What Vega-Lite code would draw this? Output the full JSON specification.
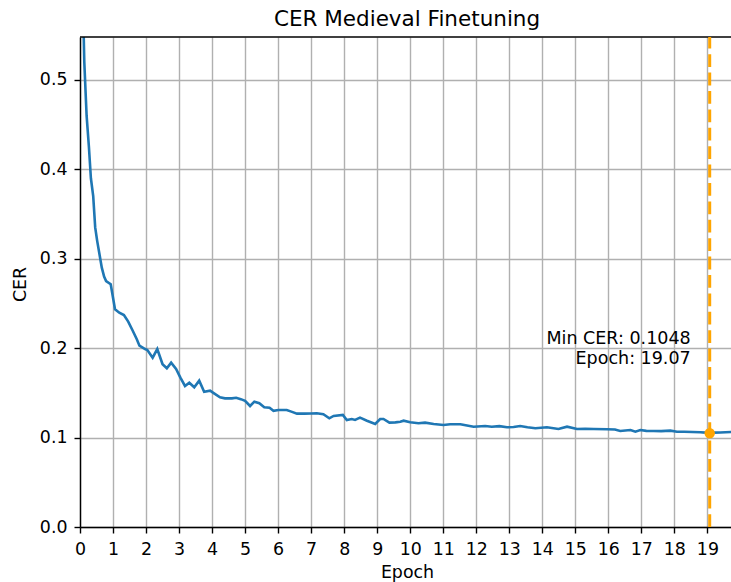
{
  "$schema": "https://vega.github.io/schema/vega-lite/v6.json",
  "width": 651,
  "height": 490,
  "autosize": {"type": "none"},
  "padding": {"left": 80, "top": 37, "right": 0, "bottom": 55},
  "background": "white",
  "config": {
    "font": "DejaVu Sans",
    "view": {"stroke": null},
    "axis": {
      "domainColor": "#000000",
      "domainWidth": 1.4,
      "tickColor": "#000000",
      "tickWidth": 1.4,
      "tickSize": 6,
      "labelFontSize": 17.4,
      "labelColor": "#000000",
      "labelPadding": 7,
      "titleFontSize": 17.4,
      "titleFontWeight": "normal",
      "titleColor": "#000000",
      "grid": true,
      "gridColor": "#b0b0b0",
      "gridWidth": 1.4
    }
  },
  "title": {
    "text": "CER Medieval Finetuning",
    "fontSize": 21.5,
    "fontWeight": "normal",
    "color": "#000000",
    "anchor": "middle",
    "baseline": "alphabetic",
    "offset": -12,
    "dx": 1.5
  },
  "datasets": {
    "cer": [
      {"epoch": 0.07, "cer": 0.62},
      {"epoch": 0.13, "cer": 0.52},
      {"epoch": 0.2, "cer": 0.46},
      {"epoch": 0.27, "cer": 0.425},
      {"epoch": 0.33, "cer": 0.39},
      {"epoch": 0.4, "cer": 0.37},
      {"epoch": 0.46, "cer": 0.335},
      {"epoch": 0.52, "cer": 0.32},
      {"epoch": 0.59, "cer": 0.305},
      {"epoch": 0.66, "cer": 0.29},
      {"epoch": 0.73, "cer": 0.28},
      {"epoch": 0.79, "cer": 0.275},
      {"epoch": 0.93, "cer": 0.2715},
      {"epoch": 1.06, "cer": 0.2435},
      {"epoch": 1.19, "cer": 0.2397},
      {"epoch": 1.33, "cer": 0.237},
      {"epoch": 1.46, "cer": 0.2297},
      {"epoch": 1.59, "cer": 0.22},
      {"epoch": 1.72, "cer": 0.21},
      {"epoch": 1.8, "cer": 0.2028},
      {"epoch": 1.97, "cer": 0.199},
      {"epoch": 2.04, "cer": 0.198},
      {"epoch": 2.2, "cer": 0.1894},
      {"epoch": 2.34, "cer": 0.199},
      {"epoch": 2.5, "cer": 0.182},
      {"epoch": 2.63, "cer": 0.1775},
      {"epoch": 2.76, "cer": 0.1838},
      {"epoch": 2.91, "cer": 0.1767},
      {"epoch": 3.04, "cer": 0.167},
      {"epoch": 3.18, "cer": 0.1577},
      {"epoch": 3.31, "cer": 0.1614},
      {"epoch": 3.46, "cer": 0.1563},
      {"epoch": 3.61, "cer": 0.1637},
      {"epoch": 3.76, "cer": 0.1513},
      {"epoch": 3.94, "cer": 0.1525},
      {"epoch": 4.06, "cer": 0.1495},
      {"epoch": 4.24, "cer": 0.145},
      {"epoch": 4.39, "cer": 0.1439},
      {"epoch": 4.6, "cer": 0.1439},
      {"epoch": 4.73, "cer": 0.1446},
      {"epoch": 4.87, "cer": 0.143},
      {"epoch": 5.0, "cer": 0.141},
      {"epoch": 5.15, "cer": 0.1353},
      {"epoch": 5.28, "cer": 0.1402},
      {"epoch": 5.43, "cer": 0.1384},
      {"epoch": 5.58, "cer": 0.134},
      {"epoch": 5.74, "cer": 0.1334},
      {"epoch": 5.86, "cer": 0.13},
      {"epoch": 6.01, "cer": 0.1309},
      {"epoch": 6.26, "cer": 0.1309},
      {"epoch": 6.4, "cer": 0.129},
      {"epoch": 6.57, "cer": 0.1268},
      {"epoch": 6.8, "cer": 0.1268},
      {"epoch": 7.0, "cer": 0.127},
      {"epoch": 7.17, "cer": 0.1272},
      {"epoch": 7.37, "cer": 0.1261},
      {"epoch": 7.55, "cer": 0.1216},
      {"epoch": 7.68, "cer": 0.1242},
      {"epoch": 7.96, "cer": 0.1253},
      {"epoch": 8.08, "cer": 0.1197},
      {"epoch": 8.23, "cer": 0.1208},
      {"epoch": 8.33, "cer": 0.1197},
      {"epoch": 8.48, "cer": 0.1223},
      {"epoch": 8.69, "cer": 0.1189},
      {"epoch": 8.94, "cer": 0.1152},
      {"epoch": 9.09, "cer": 0.1208},
      {"epoch": 9.19, "cer": 0.1208},
      {"epoch": 9.37, "cer": 0.1167},
      {"epoch": 9.55, "cer": 0.117},
      {"epoch": 9.7, "cer": 0.1178},
      {"epoch": 9.8, "cer": 0.1189},
      {"epoch": 10.0, "cer": 0.1171},
      {"epoch": 10.25, "cer": 0.116},
      {"epoch": 10.45, "cer": 0.1167},
      {"epoch": 10.71, "cer": 0.1152},
      {"epoch": 11.01, "cer": 0.1141},
      {"epoch": 11.21, "cer": 0.1149},
      {"epoch": 11.52, "cer": 0.1149},
      {"epoch": 11.72, "cer": 0.1135},
      {"epoch": 11.92, "cer": 0.1122},
      {"epoch": 12.27, "cer": 0.113},
      {"epoch": 12.47, "cer": 0.1122},
      {"epoch": 12.7, "cer": 0.1128},
      {"epoch": 12.93, "cer": 0.1115},
      {"epoch": 13.13, "cer": 0.1118},
      {"epoch": 13.33, "cer": 0.113},
      {"epoch": 13.55, "cer": 0.1115},
      {"epoch": 13.79, "cer": 0.1104},
      {"epoch": 14.14, "cer": 0.1115},
      {"epoch": 14.49, "cer": 0.1096},
      {"epoch": 14.75, "cer": 0.1122},
      {"epoch": 15.05, "cer": 0.1096},
      {"epoch": 15.3, "cer": 0.1098},
      {"epoch": 15.56, "cer": 0.1096},
      {"epoch": 15.96, "cer": 0.1093},
      {"epoch": 16.2, "cer": 0.109},
      {"epoch": 16.36, "cer": 0.1074},
      {"epoch": 16.67, "cer": 0.1085},
      {"epoch": 16.82, "cer": 0.1066},
      {"epoch": 16.97, "cer": 0.1085},
      {"epoch": 17.15, "cer": 0.1075},
      {"epoch": 17.37, "cer": 0.1074},
      {"epoch": 17.6, "cer": 0.1072},
      {"epoch": 17.88, "cer": 0.1078},
      {"epoch": 18.08, "cer": 0.1066},
      {"epoch": 18.3, "cer": 0.1066},
      {"epoch": 18.55, "cer": 0.1062},
      {"epoch": 18.79, "cer": 0.1059},
      {"epoch": 18.94, "cer": 0.1055},
      {"epoch": 19.07, "cer": 0.1048},
      {"epoch": 19.2, "cer": 0.1055},
      {"epoch": 19.39, "cer": 0.1057},
      {"epoch": 19.55, "cer": 0.106},
      {"epoch": 19.73, "cer": 0.1062}
    ],
    "best": [
      {"epoch": 19.07, "cer": 0.1048}
    ]
  },
  "encoding": {
    "x": {
      "field": "epoch",
      "type": "quantitative",
      "scale": {"domain": [0, 19.715], "nice": false, "zero": false},
      "axis": {
        "title": "Epoch",
        "values": [0,1,2,3,4,5,6,7,8,9,10,11,12,13,14,15,16,17,18,19],
        "format": "d",
        "labelFlush": false,
        "labelOverlap": false,
        "titleX": 327,
        "titleY": 50,
        "titleAlign": "center",
        "titleBaseline": "alphabetic"
      }
    },
    "y": {
      "field": "cer",
      "type": "quantitative",
      "scale": {"domain": [0, 0.548], "nice": false},
      "axis": {
        "title": "CER",
        "values": [0, 0.1, 0.2, 0.3, 0.4, 0.5],
        "format": ".1f",
        "labelFlush": false,
        "labelOverlap": false,
        "titleX": -60,
        "titleY": 247,
        "titleAlign": "center",
        "titleBaseline": "middle",
        "titleAngle": -90
      }
    }
  },
  "layer": [
    {
      "data": {"name": "cer"},
      "mark": {"type": "line", "color": "#1f77b4", "strokeWidth": 2.6, "clip": true}
    },
    {
      "data": {"name": "best"},
      "mark": {"type": "rule", "color": "#000000", "strokeWidth": 1.4},
      "encoding": {
        "x": {"datum": 0},
        "x2": {"datum": 19.715},
        "y": {"datum": 0.548}
      }
    },
    {
      "data": {"name": "best"},
      "mark": {"type": "rule", "color": "#ffa500", "strokeWidth": 3, "strokeDash": [12.8, 5.6]},
      "encoding": {
        "y": {"datum": 0},
        "y2": {"datum": 0.548}
      }
    },
    {
      "data": {"name": "best"},
      "mark": {"type": "point", "filled": true, "color": "#ffa500", "size": 110, "opacity": 1}
    },
    {
      "data": {"name": "best"},
      "mark": {
        "type": "text",
        "text": ["Min CER: 0.1048", "Epoch: 19.07"],
        "align": "right",
        "baseline": "alphabetic",
        "dx": -19,
        "dy": -89.5,
        "fontSize": 17.5,
        "lineHeight": 20,
        "color": "#000000"
      }
    }
  ]
}
